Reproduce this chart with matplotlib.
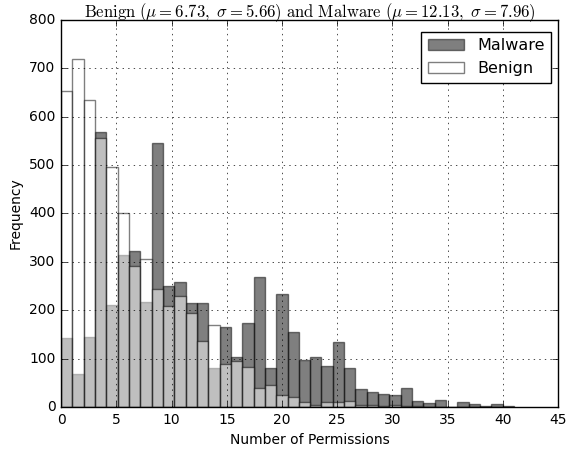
import numpy as np
import matplotlib
matplotlib.use("Agg")
import matplotlib.pyplot as plt

# permission counts, 40 bins spanning 0..41
bin_lo, bin_hi, n_bins = 0, 41, 40

malware_counts = [143, 68, 144, 568, 211, 315, 323, 217, 545, 250,
                  258, 214, 214, 80, 166, 103, 173, 268, 81, 233,
                  154, 97, 104, 85, 134, 81, 38, 31, 26, 25,
                  40, 13, 8, 14, 0, 10, 6, 2, 7, 1]
benign_counts = [653, 720, 634, 555, 496, 400, 291, 305, 244, 209,
                 229, 195, 137, 169, 88, 96, 83, 39, 45, 25,
                 21, 10, 4, 11, 10, 12, 5, 5, 3, 5,
                 2, 1, 0, 0, 0, 0, 0, 0, 0, 0]

benign_mu, benign_sigma = 6.73, 5.66
malware_mu, malware_sigma = 12.13, 7.96

plt.style.use('classic')
plt.rcParams['mathtext.fontset'] = 'cm'

edges = np.linspace(bin_lo, bin_hi, n_bins + 1)
width = edges[1] - edges[0]

fig = plt.figure(figsize=(5.66, 4.5), dpi=100, facecolor='w')
ax = fig.add_axes([0.108, 0.0956, 0.878, 0.86])

ax.bar(edges[:-1], malware_counts, width=width, align='edge',
       color='k', edgecolor='k', alpha=0.5, label='Malware')
ax.bar(edges[:-1], benign_counts, width=width, align='edge',
       color='w', edgecolor='k', alpha=0.5, label='Benign')

ax.set_xlim(0, 45)
ax.set_ylim(0, 800)
ax.set_xticks(np.arange(0, 46, 5))
ax.set_yticks(np.arange(0, 801, 100))
ax.tick_params(labelsize=10)
ax.grid(True)
ax.set_axisbelow(False)

ax.set_xlabel('Number of Permissions', fontsize=10)
ax.set_ylabel('Frequency', fontsize=10)
ax.set_title(r'$\mathrm{Benign}\ (\mu=%.2f,\ \sigma=%.2f)\ \mathrm{and\ Malware}\ (\mu=%.2f,\ \sigma=%.2f)$'
             % (benign_mu, benign_sigma, malware_mu, malware_sigma),
             fontsize=12, pad=2)

ax.legend(loc='upper right', fontsize=11.5, labelspacing=0.5,
          bbox_to_anchor=(0.986, 0.969), borderaxespad=0, borderpad=0.4,
          handlelength=2.3)

fig.savefig('out.png', dpi=100, facecolor='w')
